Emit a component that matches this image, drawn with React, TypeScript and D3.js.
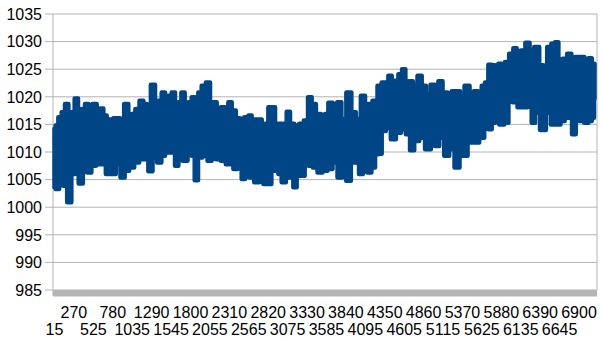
import React from 'react';
import * as d3 from 'd3';

const yTicks = [985, 990, 995, 1000, 1005, 1010, 1015, 1020, 1025, 1030, 1035];
const xLabels = [15, 270, 525, 780, 1035, 1290, 1545, 1800, 2055, 2310, 2565, 2820, 3075, 3330, 3585, 3840, 4095, 4350, 4605, 4860, 5115, 5370, 5625, 5880, 6135, 6390, 6645, 6900];

// upper envelope (category, value)
const topCats = [15, 44, 87, 131, 175, 219, 262, 297, 350, 394, 437, 481, 547, 591, 634, 678, 722, 766, 809, 853, 897, 962, 1006, 1050, 1103, 1159, 1203, 1247, 1313, 1356,
  1400, 1444, 1488, 1531, 1575, 1619, 1663, 1698, 1750, 1794, 1838, 1881, 1925, 1969, 2035, 2078, 2122, 2166, 2231, 2275, 2319, 2363, 2428, 2472, 2538, 2582, 2625, 2669, 2713, 2757, 2800,
  2844, 2888, 2932, 2975, 3041, 3085, 3128, 3194, 3260, 3317, 3369, 3413, 3479, 3544, 3588, 3632, 3697, 3754, 3807, 3885, 3938, 4004, 4069, 4113, 4157, 4222,
  4288, 4332, 4376, 4419, 4463, 4507, 4551, 4603, 4638, 4691, 4747, 4813, 4857, 4923, 4979, 5032, 5076, 5141, 5207, 5251, 5316, 5360, 5435, 5491, 5548, 5601, 5645, 5688,
  5732, 5776, 5820, 5863, 5907, 5951, 6016, 6060, 6104, 6170, 6222, 6279, 6345, 6410, 6454, 6511, 6563, 6607, 6651, 6716, 6773, 6826, 6879, 6935, 7001, 7045, 7089, 7103];
const topVals = [1014.2, 1014.8, 1016.3, 1017.2, 1018.7, 1016.9, 1017.2, 1019.7, 1016.9, 1017.8, 1018.7, 1018.5, 1018.7, 1016.6, 1017.9, 1016.6, 1015.9, 1015.9, 1016.1, 1016.1, 1015.4, 1018.7, 1016.1, 1016.9, 1017.8, 1019.3, 1018.7, 1017.9, 1022.2, 1019.0,
  1019.3, 1020.8, 1019.6, 1020.2, 1020.8, 1017.8, 1019.0, 1020.8, 1018.7, 1019.0, 1019.9, 1018.1, 1020.8, 1022.0, 1022.6, 1019.0, 1019.0, 1017.9, 1018.1, 1017.9, 1019.0, 1017.5, 1016.1, 1015.9, 1016.3, 1016.6, 1015.1, 1015.9, 1015.9, 1014.9, 1015.1,
  1018.1, 1018.1, 1014.8, 1015.1, 1015.1, 1017.3, 1015.1, 1014.8, 1015.1, 1015.7, 1019.9, 1018.7, 1016.9, 1015.1, 1016.9, 1018.9, 1018.7, 1019.0, 1016.0, 1020.8, 1017.2, 1016.0, 1020.2, 1017.8, 1018.7, 1019.3,
  1022.0, 1022.6, 1022.6, 1023.8, 1022.9, 1020.2, 1024.1, 1025.0, 1021.4, 1022.8, 1022.0, 1023.8, 1022.0, 1020.5, 1022.2, 1020.2, 1022.8, 1020.8, 1020.5, 1021.0, 1021.0, 1019.9, 1022.0, 1020.3, 1021.0, 1020.8, 1022.0, 1022.6,
  1025.8, 1025.7, 1024.4, 1026.0, 1025.0, 1026.3, 1027.8, 1028.8, 1028.2, 1028.4, 1029.8, 1028.4, 1029.0, 1025.7, 1023.8, 1029.0, 1029.6, 1029.9, 1026.6, 1026.9, 1027.8, 1025.7, 1027.2, 1027.2, 1026.9, 1027.0, 1025.8, 1026.0];

// lower envelope (category, value)
const botCats = [15, 44, 109, 153, 210, 262, 306, 359, 415, 472, 525, 591, 656, 722, 787, 853, 910, 962, 1028, 1094, 1159, 1225, 1269, 1334, 1391,
  1444, 1488, 1531, 1575, 1619, 1663, 1728, 1794, 1838, 1873, 1925, 1991, 2056, 2100, 2166, 2231, 2297, 2341, 2385, 2450, 2494, 2538, 2603, 2669, 2735, 2778, 2835,
  2888, 2932, 2975, 3019, 3085, 3128, 3172, 3216, 3273, 3325, 3378, 3435, 3500, 3566, 3632, 3697, 3763, 3815, 3872, 3938, 3990, 4034, 4091, 4148, 4201, 4244,
  4288, 4332, 4397, 4463, 4529, 4594, 4660, 4704, 4769, 4835, 4923, 4988, 5032, 5098, 5163, 5229, 5303, 5360, 5404, 5470, 5557, 5623, 5688,
  5732, 5776, 5820, 5885, 5951, 5995, 6060, 6126, 6191, 6257, 6301, 6345, 6432, 6498, 6563, 6629, 6686, 6738, 6782, 6835, 6879, 6935, 7001, 7045, 7089, 7103];
const botVals = [1003.6, 1003.3, 1004.2, 1003.9, 1000.9, 1006.0, 1007.8, 1004.3, 1007.8, 1006.3, 1007.5, 1007.8, 1007.8, 1006.0, 1006.0, 1007.8, 1005.4, 1006.6, 1007.2, 1008.1, 1008.7, 1008.7, 1006.5, 1009.0, 1008.1,
  1009.3, 1010.2, 1009.9, 1010.8, 1007.5, 1012.0, 1008.4, 1009.9, 1009.3, 1004.9, 1009.0, 1009.3, 1008.4, 1010.2, 1008.7, 1008.4, 1007.8, 1008.4, 1006.9, 1007.5, 1005.1, 1007.2, 1005.4, 1004.5, 1006.0, 1004.2, 1004.2,
  1006.6, 1007.2, 1006.0, 1004.5, 1005.4, 1005.7, 1003.6, 1007.2, 1005.7, 1007.8, 1007.5, 1007.2, 1006.3, 1006.6, 1006.9, 1008.1, 1005.4, 1006.3, 1004.8, 1008.1, 1009.0, 1006.0, 1008.1, 1006.3, 1007.2, 1009.6,
  1009.7, 1013.8, 1014.4, 1012.3, 1013.5, 1014.1, 1013.2, 1010.3, 1012.0, 1012.6, 1010.5, 1013.2, 1011.1, 1012.6, 1009.3, 1010.5, 1007.2, 1012.0, 1009.3, 1011.7, 1011.7, 1012.6, 1014.4,
  1014.1, 1015.3, 1016.5, 1015.0, 1015.3, 1019.3, 1019.0, 1018.1, 1018.1, 1018.7, 1015.3, 1017.1, 1014.0, 1017.1, 1015.0, 1015.0, 1015.6, 1017.7, 1016.2, 1013.2, 1015.9, 1015.6, 1015.3, 1015.6, 1016.2, 1019.6];

const W = 602, H = 341;
const plotLeft = 53, plotRight = 597, plotTop = 14, plotBottom = 290;
const FONT = '"Liberation Sans", Arial, sans-serif';
const BLUE = '#004586';
const GRID = '#b3b3b3';

export default function App() {
  const y = d3.scaleLinear().domain([985, 1035]).range([plotBottom, plotTop]);
  const x = d3.scaleLinear().domain([15, 7136]).range([54.5, plotRight]);

  const tops = topCats.map((c, i) => [c, topVals[i]] as [number, number]);
  const bots = botCats.map((c, i) => [c, botVals[i]] as [number, number]);
  const step = d3.line<[number, number]>().x(d => x(d[0])).y(d => y(d[1])).curve(d3.curveStep);
  const topPath = step(tops) || '';
  const botPath = step(bots.slice().reverse()) || '';
  const polyPath = topPath + 'L' + botPath.slice(1) + 'Z';

  return (
    <svg width={W} height={H} style={{ position: 'absolute', left: 0, top: 0, background: '#fff' }}>
      <rect x={0} y={0} width={W} height={H} fill="#fff" />
      {yTicks.map(t => (
        <g key={t}>
          <line x1={45} x2={plotRight} y1={y(t)} y2={y(t)} stroke={GRID} strokeWidth={1} />
          <text x={42} y={y(t)} dy="0.36em" textAnchor="end" fontFamily={FONT} fontSize={16} fill="#000">{t}</text>
        </g>
      ))}
      <line x1={plotLeft} x2={plotLeft} y1={plotTop} y2={plotBottom + 6} stroke={GRID} strokeWidth={1} />
      <line x1={plotRight} x2={plotRight} y1={plotTop} y2={plotBottom} stroke={GRID} strokeWidth={1} />
      <rect x={plotLeft} y={plotBottom} width={plotRight - plotLeft} height={6.5} fill="#b5b5b5" />
      <path d={polyPath} fill={BLUE} stroke={BLUE} strokeWidth={4.5} strokeLinejoin="round" strokeLinecap="round" />
      {xLabels.map((c, i) => (
        <text key={c} x={x(c)} y={i % 2 === 0 ? 335 : 318} textAnchor="middle" fontFamily={FONT} fontSize={16} fill="#000">{c}</text>
      ))}
    </svg>
  );
}
